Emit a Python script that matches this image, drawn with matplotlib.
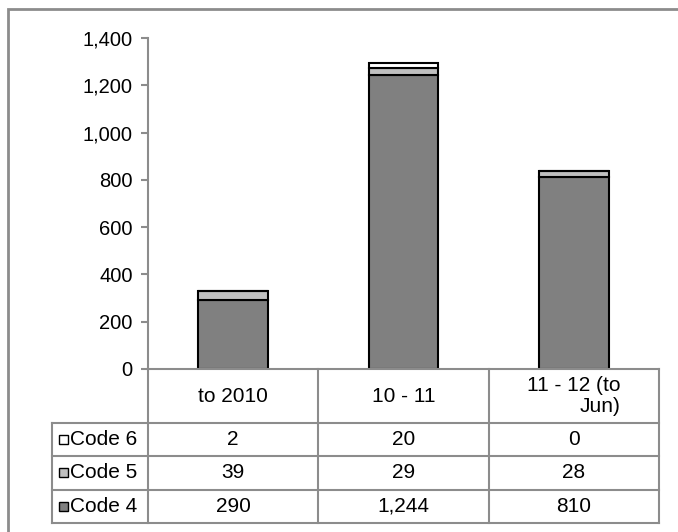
import matplotlib.pyplot as plt
from matplotlib.patches import Rectangle
from matplotlib.ticker import FuncFormatter

plt.rcParams['font.family'] = ['Liberation Sans', 'DejaVu Sans']

periods = ['to 2010', '10 - 11', '11 - 12 (to\nJun)']
series = ['Code 4', 'Code 5', 'Code 6']
code4 = [290, 1244, 810]
code5 = [39, 29, 28]
code6 = [2, 20, 0]
colors = {'Code 4': '#808080', 'Code 5': '#c0c0c0', 'Code 6': '#ffffff'}
values = {'Code 4': code4, 'Code 5': code5, 'Code 6': code6}

W, H = 678, 532
fig = plt.figure(figsize=(W / 100, H / 100), dpi=100)
ax = fig.add_axes([148 / W, 1 - 369 / H, (659 - 148) / W, 331 / H])

grey = '#8c8c8c'
x = list(range(len(periods)))
bottom = [0] * len(periods)
for s in series:
    ax.bar(x, values[s], width=0.41, bottom=bottom, color=colors[s],
           edgecolor='black', linewidth=1.5, zorder=2)
    bottom = [b + v for b, v in zip(bottom, values[s])]

ax.set_xlim(-0.5, 2.5)
ax.set_ylim(0, 1400)
ax.set_yticks(range(0, 1401, 200))
ax.yaxis.set_major_formatter(FuncFormatter(lambda v, p: f'{int(v):,}'))
ax.set_xticks([])
for side in ['top', 'right']:
    ax.spines[side].set_visible(False)
for side in ['left', 'bottom']:
    ax.spines[side].set_color(grey)
    ax.spines[side].set_linewidth(1.5)
    ax.spines[side].set_zorder(3)
ax.tick_params(axis='y', colors=grey, length=5, width=1.5, labelsize=14.5,
               labelcolor='black', pad=6)

# data table under the axis
fs = 15
hdr_h = 54 / 331
row_h = 33.3 / 331
lab_left = (52 - 148) / 511
cw = 1 / 3
tk = dict(transform=ax.transAxes, clip_on=False)
lc = dict(color=grey, linewidth=1.5, **tk)

y_top = 0
y_hdr = -hdr_h
y_bot = y_hdr - 3 * row_h
# vertical lines
for i in range(4):
    ax.plot([i * cw, i * cw], [y_top, y_bot], **lc)
ax.plot([lab_left, lab_left], [y_hdr, y_bot], **lc)
# horizontal lines
for j in range(4):
    yy = y_hdr - j * row_h
    ax.plot([lab_left, 1], [yy, yy], **lc)

for i, p in enumerate(periods):
    ax.text((i + 0.5) * cw, -hdr_h / 2, p, ha='center', va='center',
            fontsize=fs, linespacing=1.15, multialignment='right', **tk)

for j, s in enumerate(series[::-1]):
    yc = y_hdr - (j + 0.5) * row_h
    ax.add_patch(Rectangle((lab_left + 7 / 511, yc - 4.5 / 331), 9 / 511, 9 / 331,
                           facecolor=colors[s], edgecolor='black', linewidth=1, **tk))
    ax.text(lab_left + 18 / 511, yc, s, ha='left', va='center', fontsize=fs, **tk)
    for i, v in enumerate(values[s]):
        ax.text((i + 0.5) * cw, yc, f'{v:,}', ha='center', va='center',
                fontsize=fs, **tk)

# outer chart frame
fig.patches.append(Rectangle((8 / W, -0.05), 1.2, 1 - 9 / H + 0.05,
                             transform=fig.transFigure, fill=False,
                             edgecolor=grey, linewidth=2))

fig.savefig('out.png', dpi=100)
